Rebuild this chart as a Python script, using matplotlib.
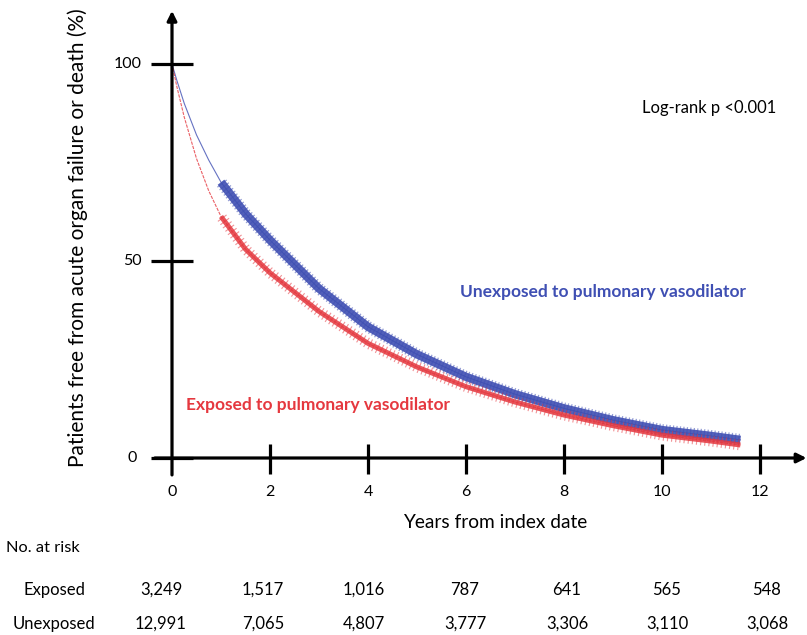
import numpy as np
import matplotlib
matplotlib.use("Agg")
import matplotlib.pyplot as plt
import matplotlib.patheffects as pe

plt.rcParams['font.family'] = ['Lato', 'DejaVu Sans']

# curve values (years, % free of event)
years = [0, 0.1, 0.25, 0.5, 0.75, 1, 1.5, 2, 3, 4, 5, 6, 7, 8, 9, 10, 11, 11.6]
unexposed = [100, 95.8, 90, 82, 75.6, 70, 62, 55.3, 43, 33.3, 26.3, 20.6, 16.2, 12.6, 9.6, 7.1, 5.6, 4.6]
exposed = [100, 94.2, 86.5, 76, 67.8, 61.3, 53, 47, 37.2, 29.1, 23.1, 18.1, 14.2, 10.9, 8.2, 5.8, 4.3, 3.3]

xticks = [0, 2, 4, 6, 8, 10, 12]
yticks = [0, 50, 100]

risk_exposed = ["3,249", "1,517", "1,016", "787", "641", "565", "548"]
risk_unexposed = ["12,991", "7,065", "4,807", "3,777", "3,306", "3,110", "3,068"]

blue = '#3f4fb3'
red = '#e5383f'

W, H = 807, 635
fig = plt.figure(figsize=(W / 100, H / 100), dpi=100)

# axes placed so that x=0 -> px 172, x=12 -> px 760, y=0 -> px 458, y=100 -> px 64
x0, x12 = 172, 760
y0, y100 = 458, 64
ppx = (x12 - x0) / 12
ppy = (y0 - y100) / 100
xlim = (-0.5, 12.9)
ylim = (-5, 113)
left = x0 + xlim[0] * ppx
right = x0 + xlim[1] * ppx
bottom = y0 - ylim[0] * ppy
top = y0 - ylim[1] * ppy
ax = fig.add_axes([left / W, 1 - bottom / H, (right - left) / W, (bottom - top) / H])
ax.set_xlim(*xlim)
ax.set_ylim(*ylim)
ax.set_axis_off()

# axes with arrows
ax.annotate('', xy=(12.95, 0), xytext=(-0.35, 0),
            arrowprops=dict(arrowstyle='-|>', lw=2.3, color='black', mutation_scale=14,
                            shrinkA=0, shrinkB=0), annotation_clip=False)
ax.annotate('', xy=(0, 113.5), xytext=(0, -4.3),
            arrowprops=dict(arrowstyle='-|>', lw=2.3, color='black', mutation_scale=14,
                            shrinkA=0, shrinkB=0), annotation_clip=False)
for t in xticks[1:]:
    ax.plot([t, t], [-4, 3.6], color='black', lw=2.3, clip_on=False, solid_capstyle='butt')
    ax.text(t, -6.8, str(t), ha='center', va='top', fontsize=11.5)
ax.text(0, -6.8, '0', ha='center', va='top', fontsize=11.5)
for t in yticks:
    ax.plot([-0.42, 0.43], [t, t], color='black', lw=2.3, clip_on=False, solid_capstyle='butt')
    ax.text(-0.62 if t else -0.72, t, str(t), ha='right', va='center', fontsize=11.5)

# thin early curves
ax.plot(years, unexposed, color=blue, lw=0.8, alpha=0.8)
ax.plot(years, exposed, color=red, lw=0.8, alpha=0.8, ls=(0, (3, 1)))

# dense censoring band from year 1
i1 = years.index(1)
ax.plot(years[i1:], unexposed[i1:], color=blue, lw=6.0, alpha=0.9, solid_capstyle='butt',
        path_effects=[pe.Normal(),
                      pe.TickedStroke(spacing=2.5, angle=90, length=1.7, linewidth=0.9, alpha=0.55),
                      pe.TickedStroke(spacing=2.5, angle=-90, length=1.7, linewidth=0.9, alpha=0.55)])
ax.plot(years[i1:], exposed[i1:], color=red, lw=3.6, alpha=0.85, solid_capstyle='butt',
        path_effects=[pe.Normal(),
                      pe.TickedStroke(spacing=3.0, angle=90, length=1.3, linewidth=0.8, alpha=0.55),
                      pe.TickedStroke(spacing=3.0, angle=-90, length=1.3, linewidth=0.8, alpha=0.55)])

# annotations
fig.text(642 / W, 1 - 108 / H, 'Log-rank p <0.001', ha='left', va='center', fontsize=11.9)
fig.text(460 / W, 1 - 292 / H, 'Unexposed to pulmonary vasodilator', ha='left', va='center',
         fontsize=12.5, fontweight='bold', color=blue)
fig.text(186 / W, 1 - 405 / H, 'Exposed to pulmonary vasodilator', ha='left', va='center',
         fontsize=12.5, fontweight='bold', color=red)

fig.text(78 / W, 1 - 238 / H, 'Patients free from acute organ failure or death (%)',
         rotation=90, ha='center', va='center', fontsize=15)
fig.text(495 / W, 1 - 523 / H, 'Years from index date', ha='center', va='center', fontsize=13.8)

# number at risk table
fig.text(6 / W, 1 - 548 / H, 'No. at risk', ha='left', va='center', fontsize=11.8)
fig.text(54 / W, 1 - 590 / H, 'Exposed', ha='center', va='center', fontsize=12)
fig.text(54 / W, 1 - 624 / H, 'Unexposed', ha='center', va='center', fontsize=12)
cols = [161, 263, 364, 465, 567, 667, 767]
for cx, a, b in zip(cols, risk_exposed, risk_unexposed):
    fig.text(cx / W, 1 - 590 / H, a, ha='center', va='center', fontsize=12)
    fig.text(cx / W, 1 - 624 / H, b, ha='center', va='center', fontsize=12)

fig.savefig('out.png', dpi=100)
